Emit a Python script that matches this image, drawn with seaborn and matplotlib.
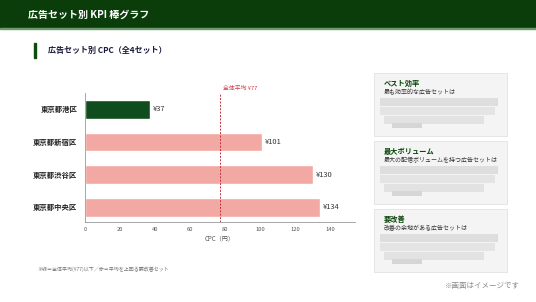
import matplotlib
matplotlib.use("Agg")
import matplotlib.pyplot as plt
import seaborn as sns
import pandas as pd
from matplotlib.patches import Rectangle

sns.set_theme(style="white")
plt.rcParams['font.family'] = ['Noto Sans CJK JP', 'DejaVu Sans']

categories = ["東京都港区", "東京都新宿区", "東京都渋谷区", "東京都中央区"]
cpc_values = [37, 101, 130, 134]
average_cpc = 77
xticks = [0, 20, 40, 60, 80, 100, 120, 140]

GREEN = "#0f4d1f"
SALMON = "#f2a9a4"
bar_colors = [GREEN if v <= average_cpc else SALMON for v in cpc_values]

W, H = 536, 302
fig = plt.figure(figsize=(W / 100, H / 100), dpi=100)
fig.patch.set_facecolor("white")

# overlay in pixel coordinates
ov = fig.add_axes([0, 0, 1, 1])
ov.set_xlim(0, W)
ov.set_ylim(H, 0)
ov.axis("off")

ov.add_patch(Rectangle((0, 0), W, 28, color="#0b3d0b", zorder=1))
ov.add_patch(Rectangle((0, 28), W, 1.2, color="#6f9a6f", zorder=1))
ov.text(28, 14.5, "広告セット別 KPI 棒グラフ", color="white", fontsize=7.2,
        fontweight="bold", va="center", ha="left")

ov.add_patch(Rectangle((34, 43), 2.2, 15, color="#0b4d0b"))
ov.text(48, 50.5, "広告セット別 CPC（全4セット）", color="#1a1a3a", fontsize=5.8,
        fontweight="bold", va="center", ha="left")

ov.text(37, 269, "※緑＝全体平均(¥77)以下／赤＝平均を上回る要改善セット", color="#777777",
        fontsize=3.6, va="center", ha="left")

cards = [
    (73, 136, "ベスト効率", "最も効率的な広告セットは"),
    (141, 204, "最大ボリューム", "最大の配信ボリュームを持つ広告セットは"),
    (209, 272, "要改善", "改善の余地がある広告セットは"),
]
for top, bot, title, sub in cards:
    ov.add_patch(Rectangle((374, top), 133, bot - top, facecolor="#f4f4f4",
                           edgecolor="#e2e2e2", linewidth=0.6))
    ov.text(384, top + 10, title, color="#0a450a", fontsize=5.2, fontweight="bold",
            va="center", ha="left")
    ov.text(384, top + 19.5, sub, color="#333333", fontsize=4.3, va="center", ha="left")
    # blurred placeholder blocks
    ov.add_patch(Rectangle((380, top + 25), 118, 8, color="#dedede", linewidth=0))
    ov.add_patch(Rectangle((380, top + 34), 115, 8, color="#e4e4e4", linewidth=0))
    ov.add_patch(Rectangle((384, top + 43), 100, 8, color="#e2e2e2", linewidth=0))
    ov.add_patch(Rectangle((392, top + 50), 30, 5, color="#d6d6d6", linewidth=0))

ov.text(482, 286, "※画面はイメージです", color="#888888", fontsize=5.4,
        va="center", ha="center")

# chart
ax = fig.add_axes([85 / W, 1 - 222 / H, 270 / W, 129 / H])
df = pd.DataFrame({"set": categories, "cpc": cpc_values})
sns.barplot(data=df, x="cpc", y="set", hue="set", palette=bar_colors, legend=False,
            orient="h", width=0.58, ax=ax, saturation=1)
ax.set_xlim(0, 154)
ax.set_ylim(3.45, -0.5)
ax.set_xticks(xticks)
ax.set_xticklabels([str(t) for t in xticks], fontsize=4.2, color="#555555")
ax.tick_params(axis="x", length=2, width=0.5, pad=1.5, color="#888888")
ax.tick_params(axis="y", length=1.5, width=0.4, pad=4, color="#888888")
for lbl in ax.get_yticklabels():
    lbl.set_fontsize(5.3)
    lbl.set_fontweight("bold")
    lbl.set_color("#222222")
ax.set_ylabel("")
ax.set_xlabel("CPC（円）", fontsize=4.4, color="#555555", labelpad=1.5)
for s in ["top", "right"]:
    ax.spines[s].set_visible(False)
for s in ["left", "bottom"]:
    ax.spines[s].set_color("#999999")
    ax.spines[s].set_linewidth(0.6)
ax.patch.set_alpha(0)

for i, v in enumerate(cpc_values):
    ax.text(v + 1.8, i, f"¥{v}", fontsize=5.4, color="#333333", va="center", ha="left")

ax.axvline(average_cpc, color="#c0303a", linestyle=(0, (2, 1.5)), linewidth=0.7, zorder=5)
ax.text(average_cpc + 1.5, -0.55, f"全体平均 ¥{average_cpc}", color="#d04048",
        fontsize=4.2, va="bottom", ha="left", clip_on=False)

fig.savefig("out.png", dpi=100, facecolor="white")
